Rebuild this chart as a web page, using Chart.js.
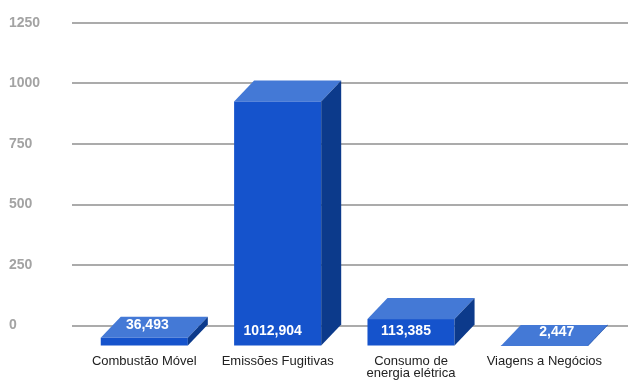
<!DOCTYPE html>
<html lang="pt-BR">
<head>
<meta charset="utf-8">
<title>Emissões por categoria</title>
<script src="https://cdn.jsdelivr.net/npm/chart.js@4.4.1/dist/chart.umd.min.js"></script>
<style>
    html, body { margin: 0; padding: 0; background: #fff; }
    #grafico { display: block; }
</style>
</head>
<body>
<canvas id="grafico" width="641" height="384"></canvas>
<script>
const categorias = [['Combustão Móvel'], ['Emissões Fugitivas'], ['Consumo de', 'energia elétrica'], ['Viagens a Negócios']];
const valores = [36.493, 1012.904, 113.385, 2.447];
const ticksY = [0, 250, 500, 750, 1000, 1250];

const FONTE = 'Arial, "Liberation Sans", sans-serif';
const PROF_X = 20;   // profundidade do efeito 3D
const PROF_Y = 21;
const COR_FRENTE = '#1553cc';
const COR_TOPO = '#4479d6';
const COR_LADO = '#0c3a8b';

function formatar(v) {
    return v.toFixed(3).replace('.', ',');
}

function poligono(ctx, pontos, cor) {
    ctx.beginPath();
    ctx.moveTo(pontos[0][0], pontos[0][1]);
    pontos.slice(1).forEach(p => ctx.lineTo(p[0], p[1]));
    ctx.closePath();
    ctx.fillStyle = cor;
    ctx.fill();
}

const barras3d = {
    id: 'barras3d',
    afterDatasetsDraw(chart) {
        const ctx = chart.ctx;
        const meta = chart.getDatasetMeta(0);
        ctx.save();
        meta.data.forEach((bar, i) => {
            const { x, y, base, width } = bar.getProps(['x', 'y', 'base', 'width'], true);
            const l = x - width / 2;
            const r = x + width / 2;
            const altura = base - y;

            // frente
            ctx.fillStyle = COR_FRENTE;
            ctx.fillRect(l - PROF_X, y + PROF_Y, width, altura);
            // topo
            poligono(ctx, [[l - PROF_X, y + PROF_Y], [r - PROF_X, y + PROF_Y], [r, y], [l, y]], COR_TOPO);
            // lado
            poligono(ctx, [[r - PROF_X, y + PROF_Y], [r, y], [r, base], [r - PROF_X, base + PROF_Y]], COR_LADO);

            // rótulo
            const centroFrente = x - PROF_X;
            let lx, ly;
            if (altura > 20) {
                ly = base + PROF_Y - 14;
                lx = centroFrente - 5;
            } else if (altura > 3) {
                ly = y + 8;
                lx = centroFrente + 3;
            } else {
                ly = base + 8;
                lx = centroFrente + (base + PROF_Y - ly) / PROF_Y * PROF_X;
            }
            ctx.fillStyle = '#ffffff';
            ctx.font = 'bold 14px ' + FONTE;
            ctx.textAlign = 'center';
            ctx.textBaseline = 'middle';
            ctx.fillText(formatar(valores[i]), lx, ly);
        });
        ctx.restore();
    }
};

const ctx = document.getElementById('grafico').getContext('2d');
new Chart(ctx, {
    type: 'bar',
    data: {
        datasets: [{
            data: valores.map((v, i) => ({ x: i, y: v })),
            backgroundColor: 'rgba(0,0,0,0)',
            borderWidth: 0,
            barPercentage: 0.653,
            categoryPercentage: 1
        }]
    },
    options: {
        responsive: false,
        animation: false,
        devicePixelRatio: 1,
        layout: { padding: { left: 9, right: 13, top: 23, bottom: 0 } },
        plugins: {
            legend: { display: false },
            tooltip: { enabled: false }
        },
        scales: {
            x: {
                type: 'linear',
                bounds: 'data',
                offset: false,
                min: -0.692,
                max: 3.477,
                grid: { display: false, drawTicks: false, offset: false },
                border: { display: false },
                afterFit: s => {
                    s.height = 58.5;
                    s.paddingLeft = 0;
                    s.paddingRight = 0;
                },
                afterBuildTicks: s => { s.ticks = categorias.map((c, i) => ({ value: i })); },
                ticks: {
                    autoSkip: false,
                    maxRotation: 0,
                    labelOffset: -PROF_X,
                    padding: 30,
                    color: '#222222',
                    font: { family: FONTE, size: 13, lineHeight: 0.9 },
                    callback: v => categorias[v]
                }
            },
            y: {
                min: 0,
                max: 1250,
                afterFit: s => {
                    s.width = 63;
                    s.paddingTop = 0;
                    s.paddingBottom = 0;
                },
                afterBuildTicks: s => { s.ticks = ticksY.map(v => ({ value: v })); },
                grid: { color: '#ababab', lineWidth: 2, drawTicks: false },
                border: { display: false },
                ticks: {
                    crossAlign: 'far',
                    padding: 0,
                    color: '#a3a3a3',
                    font: { family: FONTE, size: 14, weight: 'bold' },
                    callback: v => String(v)
                }
            }
        }
    },
    plugins: [barras3d]
});
</script>
</body>
</html>
